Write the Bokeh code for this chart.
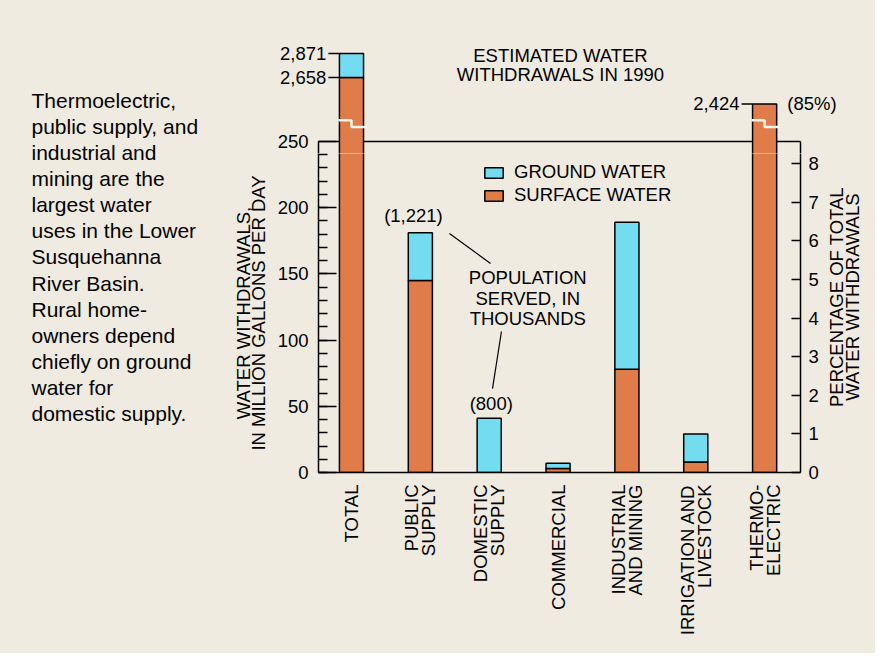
import math
from bokeh.plotting import figure
from bokeh.layouts import row, column
from bokeh.models import (Range1d, LinearAxis, FixedTicker, Label, Legend,
                          LegendItem, ColumnDataSource)
from bokeh.embed import file_html
from bokeh.resources import INLINE

# ---------------- data ----------------
categories = ["TOTAL", "PUBLIC\nSUPPLY", "DOMESTIC\nSUPPLY", "COMMERCIAL",
              "INDUSTRIAL\nAND MINING", "IRRIGATION AND\nLIVESTOCK", "THERMO-\nELECTRIC"]
surface_water = [2658, 145, 0, 3, 78, 8, 2424]
ground_water = [213, 36, 41, 4, 111, 21, 0]
left_ticks = [0, 50, 100, 150, 200, 250]
left_minor_ticks = list(range(0, 251, 10))
pct_ticks = [0, 1, 2, 3, 4, 5, 6, 7, 8]
population_served = ["", "(1,221)", "(800)", "", "", "", ""]
thermo_share = "(85%)"
paragraph = ("Thermoelectric,\npublic supply, and\nindustrial and\nmining are the\n"
             "largest water\nuses in the Lower\nSusquehanna\nRiver Basin.\nRural home-\n"
             "owners depend\nchiefly on ground\nwater for\ndomestic supply.")

# ---------------- style / layout ----------------
BG = "#f0ebe0"
ORANGE = "#e07b4a"
CYAN = "#74dcf1"
FONT = "Liberation Sans"
FS = "18.5px"
AXIS_MAX = 250          # top of the unbroken scale
BREAK_FROM = 2090       # value shown at the frame top for broken bars
ABOVE_SCALE = 0.085     # compressed scale above the break
PCT_UNIT = 29.15        # Mgal/d per percent on the right axis
BAR_W = 0.35
LW = 1.5

W, H = 875, 653
LEFT_W = 200            # text column
FRAME_L, FRAME_R, FRAME_T, FRAME_B = 318, 800, 141, 472
SPLIT = 153             # page row where the upper strip ends
RIGHT_X = 822           # start of right axis-title strip
X0, X1 = -0.479, 6.521  # x data range of the frame
PX_X = (FRAME_R - FRAME_L) / (X1 - X0)
PX_Y = (FRAME_B - FRAME_T) / AXIS_MAX
Y_SPLIT = AXIS_MAX - (SPLIT - FRAME_T) / PX_Y

def disp(v):
    return v if v <= AXIS_MAX else AXIS_MAX + (v - BREAK_FROM) * ABOVE_SCALE

def label(**kw):
    base = dict(text_font=FONT, text_font_size=FS, text_color="black",
                text_align="center", text_baseline="middle")
    base.update(kw)
    return Label(**base)

def blank(width, height, x_range, y_range):
    f = figure(width=width, height=height, x_range=x_range, y_range=y_range,
               output_backend="svg", toolbar_location=None, x_axis_type=None,
               y_axis_type=None, min_border=0, background_fill_color=BG,
               border_fill_color=BG, outline_line_color=None)
    f.xgrid.visible = False
    f.ygrid.visible = False
    return f

def bar_source(idx):
    s1 = [disp(surface_water[i]) for i in idx]
    g1 = [disp(surface_water[i] + ground_water[i]) for i in idx]
    return ColumnDataSource(dict(
        x=[xpos[i] for i in idx],
        sy=[t / 2 for t in s1], sh=s1,
        gy=[(a + b) / 2 for a, b in zip(s1, g1)], gh=[b - a for a, b in zip(s1, g1)]))

xpos = list(range(len(categories)))
tot_top = [disp(s + g) for s, g in zip(surface_water, ground_water)]
src = bar_source(range(len(xpos)))
src_top = bar_source([i for i, t in enumerate(tot_top) if t > Y_SPLIT])

# ---------------- main chart ----------------
main_w = RIGHT_X - LEFT_W
main = figure(width=main_w, height=H - SPLIT, x_range=Range1d(X0, X1),
              y_range=Range1d(0, Y_SPLIT), output_backend="svg", toolbar_location=None,
              min_border_left=FRAME_L - LEFT_W, min_border_right=RIGHT_X - FRAME_R,
              min_border_top=0, min_border_bottom=H - FRAME_B,
              background_fill_color=BG, border_fill_color=BG, outline_line_color=None)
main.xgrid.visible = False
main.ygrid.visible = False

r_surf = main.rect(x="x", y="sy", width=BAR_W, height="sh", source=src,
                   fill_color=ORANGE, line_color="black", line_width=LW)
r_ground = main.rect(x="x", y="gy", width=BAR_W, height="gh", source=src,
                     fill_color=CYAN, line_color="black", line_width=LW)

# population served annotations
main.add_layout(label(x=0.90, y=194, text=population_served[1]))
main.add_layout(label(x=2.03, y=52, text=population_served[2]))
main.add_layout(label(x=2.56, y=131.5, text="POPULATION\nSERVED, IN\nTHOUSANDS",
                      text_line_height=0.98))
main.segment(x0=[1.423, 2.178], y0=[180.5, 106.5], x1=[2.019, 2.048], y1=[157.9, 63.4],
             line_color="black", line_width=1.2)

main.xaxis.ticker = FixedTicker(ticks=xpos, minor_ticks=[])
main.xaxis.major_label_overrides = {i: c for i, c in zip(xpos, categories)}
main.xaxis.major_label_orientation = math.pi / 2
main.xaxis.major_tick_in = 0
main.xaxis.major_tick_out = 0
main.xaxis.minor_tick_in = 0
main.xaxis.minor_tick_out = 0
main.xaxis.major_label_standoff = 12
main.xaxis.axis_line_width = LW
main.xaxis.major_label_text_line_height = 0.8

ya = main.yaxis[0]
ya.ticker = FixedTicker(ticks=left_ticks, minor_ticks=left_minor_ticks)
ya.major_tick_in = 18
ya.major_tick_out = 0
ya.minor_tick_in = 9
ya.minor_tick_out = 0
ya.major_label_standoff = 10
ya.axis_line_width = LW
ya.major_tick_line_width = LW
ya.minor_tick_line_width = LW
ya.axis_label = "WATER WITHDRAWALS,\nIN MILLION GALLONS PER DAY"
ya.axis_label_standoff = 6
ya.axis_label_text_font_style = "normal"
ya.axis_label_text_line_height = 0.72

main.extra_y_ranges = {"pct": Range1d(0, Y_SPLIT / PCT_UNIT)}
ra = LinearAxis(y_range_name="pct",
                ticker=FixedTicker(ticks=pct_ticks, minor_ticks=[]),
                major_tick_in=9, major_tick_out=0, minor_tick_in=0, minor_tick_out=0,
                major_label_standoff=8, axis_line_width=LW, major_tick_line_width=LW)
main.add_layout(ra, "right")

for ax in [main.xaxis[0], ya, ra]:
    ax.major_label_text_font = FONT
    ax.major_label_text_font_size = FS
    ax.major_label_text_color = "black"
    ax.axis_label_text_font = FONT
    ax.axis_label_text_font_size = FS
    ax.axis_label_text_color = "black"
    ax.axis_line_color = "black"

legend = Legend(items=[LegendItem(label="GROUND WATER", renderers=[r_ground]),
                       LegendItem(label="SURFACE WATER", renderers=[r_surf])],
                location=(164, 266), orientation="vertical",
                background_fill_alpha=0, border_line_color=None,
                padding=0, margin=0, spacing=1, glyph_width=23, glyph_height=13,
                label_standoff=9, label_text_font=FONT, label_text_font_size=FS,
                label_text_color="black", label_height=13)
main.add_layout(legend)

# ---------------- upper strip: top of the frame and broken bar tops ----------------
top_w = W - LEFT_W
tx0 = X0 - (FRAME_L - LEFT_W) / PX_X
top = blank(top_w, SPLIT, Range1d(tx0, tx0 + top_w / PX_X),
            Range1d(Y_SPLIT, Y_SPLIT + SPLIT / PX_Y))
# frame continuation: top edge at 250, side edges, and the 250 tick of the left scale
top.segment(x0=[X0, X0, X1, X0], x1=[X1, X0, X1, X0 + 18 / PX_X],
            y0=[AXIS_MAX, Y_SPLIT, Y_SPLIT, AXIS_MAX],
            y1=[AXIS_MAX, AXIS_MAX, AXIS_MAX, AXIS_MAX],
            line_color="black", line_width=LW)
top.add_layout(label(x=X0 - 10 / PX_X, y=left_ticks[-1], text=str(left_ticks[-1]),
                     text_align="right"))
top.rect(x="x", y="sy", width=BAR_W, height="sh", source=src_top,
         fill_color=ORANGE, line_color="black", line_width=LW)
top.rect(x="x", y="gy", width=BAR_W, height="gh", source=src_top,
         fill_color=CYAN, line_color="black", line_width=LW)

bxs, bys = [], []
for x, t in zip(xpos, tot_top):
    if t > AXIS_MAX:
        bxs.append([x - 0.19, x, x, x + 0.22])
        bys.append([AXIS_MAX + 16, AXIS_MAX + 16, AXIS_MAX + 11, AXIS_MAX + 11])
top.multi_line(xs=bxs, ys=bys, line_color="#f8f5ee", line_width=2.5)

vx, vy, vt = [], [], []
for x, s, g in zip(xpos, surface_water, ground_water):
    if s + g > AXIS_MAX:
        for v in sorted(set([s + g, s])):
            if v > AXIS_MAX:
                vx.append(x)
                vy.append(disp(v))
                vt.append(f"{v:,}")
top.segment(x0=[x - 0.335 for x in vx], x1=[x - BAR_W / 2 for x in vx], y0=vy, y1=vy,
            line_color="black", line_width=LW)
for x, y, t in zip(vx, vy, vt):
    top.add_layout(label(x=x - 0.365, y=y, text=t, text_align="right"))
top.add_layout(label(x=xpos[-1] + 0.33, y=tot_top[-1], text=thermo_share,
                     text_align="left"))
top.add_layout(label(x=3.035, y=307.5, text="ESTIMATED WATER\nWITHDRAWALS IN 1990",
                     text_line_height=0.9))

# ---------------- left text column ----------------
left = blank(LEFT_W, H, Range1d(0, LEFT_W), Range1d(H, 0))
left.add_layout(label(x=31, y=88, text=paragraph, text_align="left",
                      text_baseline="top", text_font_size="21px", text_line_height=1.137))

# ---------------- right axis title strip ----------------
right_w = W - RIGHT_X
right = blank(right_w, H - SPLIT, Range1d(0, right_w),
              Range1d(-(H - FRAME_B) / PX_Y, Y_SPLIT))
right.add_layout(label(x=844 - RIGHT_X, y=71,
                       text="PERCENTAGE OF TOTAL\nWATER WITHDRAWALS",
                       angle=math.pi / 2, text_line_height=0.74))

sty = {"background-color": BG}
p = row(left, column(top, row(main, right, styles=sty), styles=sty), styles=sty)

open("out.html", "w").write(file_html(p, INLINE))
